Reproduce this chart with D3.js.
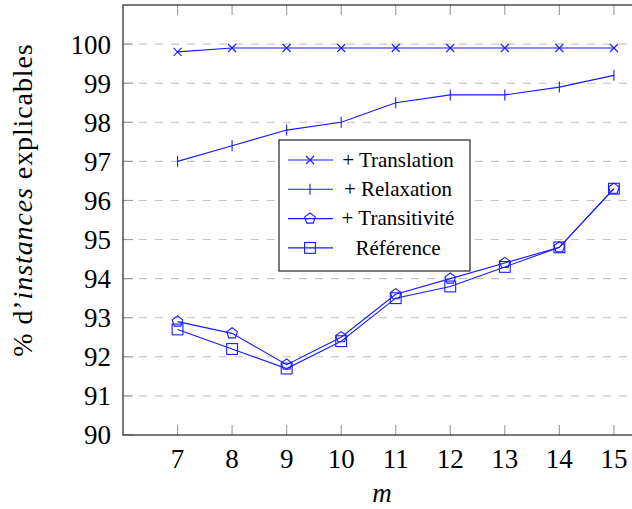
<!DOCTYPE html>
<html>
<head>
<meta charset="utf-8">
<script src="https://cdn.jsdelivr.net/npm/d3@7"></script>
<style>
  body { margin: 0; background: #fff; }
  svg { display: block; }
  svg text { font-family: 'Liberation Serif', 'Times New Roman', Tinos, 'DejaVu Serif', 'Noto Serif', serif; }
</style>
</head>
<body>
<div id="chart"></div>
<script>
var mValues = [7, 8, 9, 10, 11, 12, 13, 14, 15];
var yTicks = [90, 91, 92, 93, 94, 95, 96, 97, 98, 99, 100];

var translation = [99.8, 99.9, 99.9, 99.9, 99.9, 99.9, 99.9, 99.9, 99.9];
var relaxation = [97.0, 97.4, 97.8, 98.0, 98.5, 98.7, 98.7, 98.9, 99.2];
var transitivite = [92.9, 92.6, 91.8, 92.5, 93.6, 94.0, 94.4, 94.8, 96.3];
var reference = [92.7, 92.2, 91.7, 92.4, 93.5, 93.8, 94.3, 94.8, 96.3];

var seriesNames = ['+ Translation', '+ Relaxation', '+ Transitivité', 'Référence'];
var seriesMarks = ['cross', 'bar', 'pentagon', 'square'];
var seriesValues = [translation, relaxation, transitivite, reference];

var width = 632, height = 509;
var plot = { left: 123, right: 633, top: 5, bottom: 435 };
var blue = '#1a1aff';

var x = d3.scaleLinear().domain([6, 15.35]).range([plot.left, plot.right]);
var y = d3.scaleLinear().domain([90, 101]).range([plot.bottom, plot.top]);

var svg = d3.select('#chart').append('svg')
  .attr('width', width)
  .attr('height', height);

// dashed grid
svg.append('g')
  .selectAll('line')
  .data(yTicks.slice(1))
  .enter().append('line')
  .attr('x1', plot.left).attr('x2', plot.right)
  .attr('y1', function(d) { return y(d); })
  .attr('y2', function(d) { return y(d); })
  .attr('stroke', '#c4c4c4')
  .attr('stroke-width', 1.1)
  .attr('stroke-dasharray', '8,8');

// ticks, inside the frame
var tickLen = 10;
var ticks = svg.append('g').attr('stroke', '#9a9a9a').attr('stroke-width', 1.1);
ticks.selectAll('.yt').data(yTicks).enter().append('line')
  .attr('x1', plot.left).attr('x2', plot.left + tickLen)
  .attr('y1', function(d) { return y(d); })
  .attr('y2', function(d) { return y(d); });
ticks.selectAll('.xb').data(mValues).enter().append('line')
  .attr('x1', function(d) { return x(d); })
  .attr('x2', function(d) { return x(d); })
  .attr('y1', plot.bottom).attr('y2', plot.bottom - tickLen);
ticks.selectAll('.xt').data(mValues).enter().append('line')
  .attr('x1', function(d) { return x(d); })
  .attr('x2', function(d) { return x(d); })
  .attr('y1', plot.top).attr('y2', plot.top + tickLen);

// frame
svg.append('rect')
  .attr('x', plot.left).attr('y', plot.top)
  .attr('width', plot.right - plot.left)
  .attr('height', plot.bottom - plot.top)
  .attr('fill', 'none')
  .attr('stroke', '#222')
  .attr('stroke-width', 1.2);

// tick labels
svg.append('g').selectAll('text').data(yTicks).enter().append('text')
  .attr('x', 111)
  .attr('y', function(d) { return y(d); })
  .attr('dy', '0.35em')
  .attr('text-anchor', 'end')
  .style('font-size', '27px')
  .text(function(d) { return d; });

svg.append('g').selectAll('text').data(mValues).enter().append('text')
  .attr('x', function(d) { return x(d); })
  .attr('y', 468)
  .attr('text-anchor', 'middle')
  .style('font-size', '27px')
  .text(function(d) { return d; });

// axis titles
svg.append('text')
  .attr('x', 382).attr('y', 502)
  .attr('text-anchor', 'middle')
  .style('font-size', '27px')
  .style('font-style', 'italic')
  .text('m');

var ylab = svg.append('text')
  .attr('transform', 'translate(32,200) rotate(-90)')
  .attr('text-anchor', 'middle')
  .style('font-size', '28px')
  .style('letter-spacing', '0.9px');
ylab.append('tspan').text('% d’');
ylab.append('tspan').style('font-style', 'italic').text('instances');
ylab.append('tspan').text(' explicables');

// markers
function drawMark(g, type) {
  if (type === 'cross') {
    g.append('path').attr('d', 'M-4,-4L4,4M-4,4L4,-4');
  } else if (type === 'bar') {
    g.append('path').attr('d', 'M0,-5.5L0,5.5');
  } else if (type === 'pentagon') {
    var pts = d3.range(5).map(function(i) {
      var a = -Math.PI / 2 + i * 2 * Math.PI / 5;
      return [5.6 * Math.cos(a), 5.6 * Math.sin(a)];
    });
    g.append('path').attr('d', 'M' + pts.join('L') + 'Z').attr('fill', 'none');
  } else {
    g.append('rect').attr('x', -5.4).attr('y', -5.4)
      .attr('width', 10.8).attr('height', 10.8).attr('fill', 'none');
  }
}

var line = d3.line()
  .x(function(d, i) { return x(mValues[i]); })
  .y(function(d) { return y(d); });

seriesValues.forEach(function(vals, s) {
  var g = svg.append('g')
    .attr('stroke', blue)
    .attr('stroke-width', 1.1)
    .attr('fill', 'none');
  g.append('path').attr('d', line(vals));
  vals.forEach(function(v, i) {
    var m = g.append('g')
      .attr('transform', 'translate(' + x(mValues[i]) + ',' + y(v) + ')');
    drawMark(m, seriesMarks[s]);
  });
});

// legend
var legend = svg.append('g').attr('transform', 'translate(279,140)');
legend.append('rect')
  .attr('width', 191).attr('height', 131)
  .attr('fill', '#fff')
  .attr('stroke', '#222')
  .attr('stroke-width', 1.2);

var rows = legend.selectAll('.row').data(seriesNames).enter().append('g')
  .attr('transform', function(d, i) { return 'translate(0,' + (20 + i * 29.3) + ')'; });
rows.append('line')
  .attr('x1', 9).attr('x2', 54)
  .attr('stroke', blue).attr('stroke-width', 1.1);
rows.each(function(d, i) {
  var m = d3.select(this).append('g')
    .attr('transform', 'translate(31,0)')
    .attr('stroke', blue).attr('stroke-width', 1.1).attr('fill', 'none');
  drawMark(m, seriesMarks[i]);
});
rows.append('text')
  .attr('x', 119)
  .attr('dy', '0.32em')
  .attr('text-anchor', 'middle')
  .style('font-size', '21px')
  .text(function(d) { return d; });
</script>
</body>
</html>
